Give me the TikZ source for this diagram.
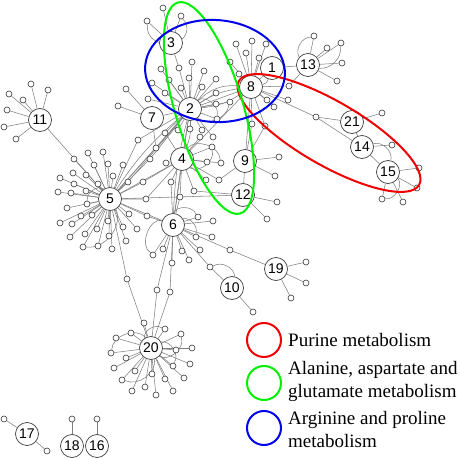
\documentclass[tikz,border=0pt]{standalone}
\usepackage{fontspec}
\setmainfont{Liberation Serif}
\newfontfamily\arialf{Liberation Sans}
\pgfdeclarelayer{bg}
\pgfsetlayers{bg,main}
\definecolor{cred}{RGB}{240,0,0}
\definecolor{cgreen}{RGB}{0,240,0}
\definecolor{cblue}{RGB}{0,0,235}
\newcommand\hubleaves[2]{%
  \foreach \x/\y [count=\i] in {#2} {%
    \node[leaf] (#1-\i) at (\x,\y) {};
    \begin{pgfonlayer}{bg}\draw[edge] (#1) -- (#1-\i);\end{pgfonlayer}
  }}
\begin{document}
\begin{tikzpicture}[x=1pt,y=-1pt,
  hub/.style={circle,draw=black!75,fill=white,line width=0.7pt,minimum size=23pt,inner sep=0pt,font=\arialf\fontsize{14}{14}\selectfont},
  leaf/.style={circle,draw=black!80,fill=white,line width=0.6pt,minimum size=6pt,inner sep=0pt},
  edge/.style={draw=black!50,line width=0.55pt},
  ring/.style={line width=2pt},
  legtext/.style={anchor=west,align=left,inner sep=0pt,font=\fontsize{19}{23}\selectfont}]
\useasboundingbox (0,0) rectangle (461,460);

% hubs
\node[hub] (n1) at (272,68) {1};
\node[hub] (n2) at (190,109) {2};
\node[hub] (n3) at (171,43) {3};
\node[hub] (n4) at (182,159) {4};
\node[hub] (n5) at (110,199) {5};
\node[hub] (n6) at (173,225) {6};
\node[hub] (n7) at (152,118) {7};
\node[hub] (n8) at (251,87) {8};
\node[hub] (n9) at (245,161) {9};
\node[hub] (n10) at (232,288) {10};
\node[hub] (n11) at (40,120) {11};
\node[hub] (n12) at (243,195) {12};
\node[hub] (n13) at (308,65) {13};
\node[hub] (n14) at (362,147) {14};
\node[hub] (n15) at (388,172) {15};
\node[hub] (n16) at (97,446) {16};
\node[hub] (n17) at (27,434) {17};
\node[hub] (n18) at (72,446) {18};
\node[hub] (n19) at (276,269) {19};
\node[hub] (n20) at (151,348) {20};
\node[hub] (n21) at (352,122) {21};

% leaves
\hubleaves{n8}{236/44,252/41,266/44,230/62,246/53,259/58,239/74,267/100,274/107,288/100}
\hubleaves{n2}{192/62,204/71,169/80,189/78,161/69,152/83,181/88,165/93,202/87,216/79,216/93,216/104,230/102,217/119,178/130,190/129,202/130,213/137,148/99}
\hubleaves{n3}{147/21,163/8,181/16}
\hubleaves{n7}{126/89,118/106}
\hubleaves{n11}{31/84,48/90,9/94,23/100,7/110,4/127,16/139}
\hubleaves{n4}{207/162,221/163,212/147,206/180,166/163,200/137}
\hubleaves{n5}{88/153,103/152,74/159,94/165,108/164,123/165,73/173,86/175,113/176,60/178,74/184,98/184,58/192,71/193,86/191,67/208,87/204,60/223,72/224,81/216,92/215,70/237,85/234,97/229,108/221,123/227,137/229,129/214,83/247,98/246,109/236,112/249,126/241}
\hubleaves{n6}{198/217,213/221,212/237,196/237,182/251,200/250,189/260,172/263,163/249,153/255}
\hubleaves{n9}{279/157,275/176}
\hubleaves{n12}{277/202,267/219}
\hubleaves{n10}{253/312}
\hubleaves{n19}{306/262,306/283,291/298}
\hubleaves{n13}{314/36,327/48,341/43,342/63,337/81}
\hubleaves{n21}{382/113}
\hubleaves{n14}{392/145}
\hubleaves{n15}{419/168,417/188,403/202,382/199}
\hubleaves{n20}{144/323,165/329,131/333,116/338,181/334,111/353,126/358,176/350,192/348,114/368,135/371,152/374,173/366,190/364,184/378,122/380,145/387,165/379,132/391,156/395,173/391}
\hubleaves{n17}{4/419,47/451}
\hubleaves{n18}{72/419}
\hubleaves{n16}{97/419}

% intermediate nodes
\node[leaf] (m1) at (179,68) {};
\node[leaf] (m2) at (138,140) {};
\node[leaf] (m3) at (156,148) {};
\node[leaf] (m4) at (143,182) {};
\node[leaf] (m5) at (128,182) {};
\node[leaf] (m6) at (146,199) {};
\node[leaf] (m7) at (147,216) {};
\node[leaf] (m8) at (194,191) {};
\node[leaf] (m9) at (171,182) {};
\node[leaf] (m10) at (180,197) {};
\node[leaf] (m11) at (219,180) {};
\node[leaf] (m12) at (252,124) {};
\node[leaf] (m13) at (265,126) {};
\node[leaf] (m14) at (289,86) {};
\node[leaf] (m15) at (316,117) {};
\node[leaf] (m16) at (230,250) {};
\node[leaf] (m17) at (210,267) {};
\node[leaf] (m18) at (127,279) {};
\node[leaf] (m19) at (157,290) {};
\node[leaf] (m20) at (170,292) {};
\node[leaf] (m21) at (165,133) {};
\node[leaf] (m22) at (150,159) {};

\begin{pgfonlayer}{bg}
\draw[edge] (n3) -- (m1) -- (n2);
\draw[edge] (n2) -- (m2) -- (n5);
\draw[edge] (n2) -- (m3) -- (n5);
\draw[edge] (n7) -- (m3);
\draw[edge] (n4) -- (m4) -- (n5);
\draw[edge] (n2) -- (m5) -- (n5);
\draw[edge] (n4) -- (m6) -- (n5);
\draw[edge] (n5) -- (m7) -- (n6);
\draw[edge] (n4) -- (m8) -- (n12);
\draw[edge] (n4) -- (m9) -- (n6);
\draw[edge] (n4) -- (m10) -- (n6);
\draw[edge] (n4) -- (m11) -- (n9);
\draw[edge] (n8) -- (m12) -- (n9);
\draw[edge] (n8) -- (m13) -- (n9);
\draw[edge] (n8) -- (m14) -- (n13);
\draw[edge] (n8) -- (m15) -- (n21);
\draw[edge] (m15) -- (n14);
\draw[edge] (n6) -- (m16) -- (n19);
\draw[edge] (n6) -- (m17) -- (n10);
\draw[edge] (m17) to[bend left=60] (n10);
\draw[edge] (n5) -- (m18) -- (n20);
\draw[edge] (n6) -- (m19) -- (n20);
\draw[edge] (n6) -- (m20) -- (n20);
\draw[edge] (n2) -- (m21) -- (n4);
\draw[edge] (n2) -- (m22) -- (n5);
% direct edges
\draw[edge] (n2) -- (n8);
\draw[edge] (n2) to[bend left=12] (n8);
\draw[edge] (n2) to[bend right=14] (n8);
\draw[edge] (n2) to[bend left=25] (n8);
\draw[edge] (n2) -- (n4);
\draw[edge] (n2) to[bend left=12] (n4);
\draw[edge] (n2) -- (n6);
\draw[edge] (n2) to[bend right=6] (n6);
\draw[edge] (n2) -- (n5);
\draw[edge] (n2) to[bend right=8] (n5);
\draw[edge] (n4) -- (n6);
\draw[edge] (n4) -- (n5);
\draw[edge] (n5) -- (n6);
\draw[edge] (n11) -- (n5);
\draw[edge] (n7) -- (n2);
\draw[edge] (n1) -- (n8);
\draw[edge] (n1) to[bend left=30] (n8);
\draw[edge] (n1) -- (n13);
\draw[edge] (n21) -- (n14);
\draw[edge] (n14) -- (n15);
\draw[edge] (n14) to[bend left=60] (n15);
\draw[edge] (n9) -- (n12);
\draw[edge] (n5) -- (n12);
\draw[edge] (n8) -- (n4);
\draw[edge] (n8) -- (n9);
% small loops
\draw[edge] (n3) to[bend right=50] (n3-3);
\draw[edge] (n3) to[bend left=40] (n3-1);
\draw[edge] (n13) to[bend left=60] (n13-1);
\draw[edge] (n13) to[bend right=50] (n13-3);
\draw[edge] (n15) to[bend left=70] (n15-4);
\draw[edge] (n4) to[bend left=70] (n4-2);
\draw[edge] (n4) to[bend right=70] (n4-3);
\draw[edge] (n6) to[bend left=70] (n6-1);
\draw[edge] (n6) to[bend right=80] (n6-10);
\draw[edge] (n6) to[bend left=60] (n6-4);
\draw[edge] (n2) to[bend left=70] (n2-14);
\draw[edge] (n2) to[bend right=60] (n2-13);
\draw[edge] (n5) to[bend right=70] (n5-17);
\draw[edge] (n5) to[bend left=60] (n5-29);
\draw[edge] (n20) to[bend left=70] (n20-2);
\draw[edge] (n20) to[bend right=70] (n20-5);
\draw[edge] (n20) to[bend left=70] (n20-13);
\draw[edge] (n20) to[bend right=70] (n20-6);
\draw[edge] (n20) to[bend left=60] (n20-16);
\end{pgfonlayer}

% pathway ellipses
\draw[ring,draw=cred,rotate around={-30:(329,133)}] (329,133) ellipse [x radius=104,y radius=32];
\draw[ring,draw=cgreen,rotate around={16.5:(209,108)}] (209,108) ellipse [x radius=34,y radius=110];
\draw[ring,draw=cblue,rotate around={-4:(215,71)}] (215,71) ellipse [x radius=70,y radius=51];

% legend
\node[circle,ring,draw=cred,minimum size=34pt,inner sep=0pt] (lr) at (264,340) {};
\node[circle,ring,draw=cgreen,minimum size=34pt,inner sep=0pt] (lg) at (264,383) {};
\node[circle,ring,draw=cblue,minimum size=34pt,inner sep=0pt] (lb) at (264,428) {};
\node[legtext] (tr) at (288,340) {Purine metabolism};
\node[legtext] (tg) at (288,381) {Alanine, aspartate and\\glutamate metabolism};
\node[legtext] (tb) at (288,429) {Arginine and proline\\metabolism};
\end{tikzpicture}
\end{document}
